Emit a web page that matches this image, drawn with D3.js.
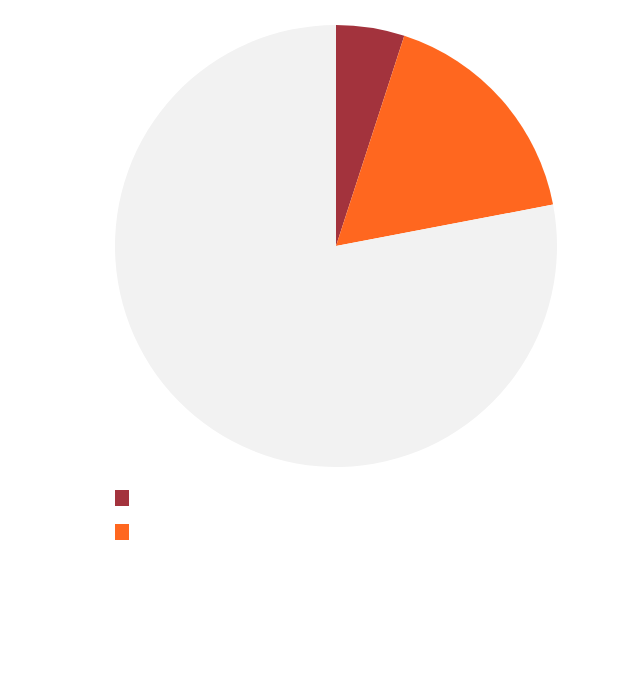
<!DOCTYPE html>
<html>
<head>
<meta charset="utf-8">
<script src="https://cdn.jsdelivr.net/npm/d3@7"></script>
<style>
  body { margin: 0; background: #fff; }
</style>
</head>
<body>
<svg width="619" height="674"></svg>
<script>
var categories = ["A", "B", "Other"];
var values = [5, 17, 78];
var colors = ["#a3333d", "#ff671f", "#f2f2f2"];
var legendItems = [0, 1];

var svg = d3.select("svg");
var radius = 221;

var g = svg.append("g")
    .attr("transform", "translate(" + 336 + "," + 246 + ")");

var pie = d3.pie().sort(null).value(function(d) { return d; });
var arc = d3.arc().innerRadius(0).outerRadius(radius);

g.selectAll("path")
    .data(pie(values))
  .enter().append("path")
    .attr("d", arc)
    .attr("fill", function(d, i) { return colors[i]; });

var legend = svg.append("g")
    .attr("transform", "translate(115,490)");

legend.selectAll("rect")
    .data(legendItems)
  .enter().append("rect")
    .attr("x", 0)
    .attr("y", function(d, i) { return i * 34; })
    .attr("width", 14)
    .attr("height", 16)
    .attr("fill", function(d) { return colors[d]; });
</script>
</body>
</html>
